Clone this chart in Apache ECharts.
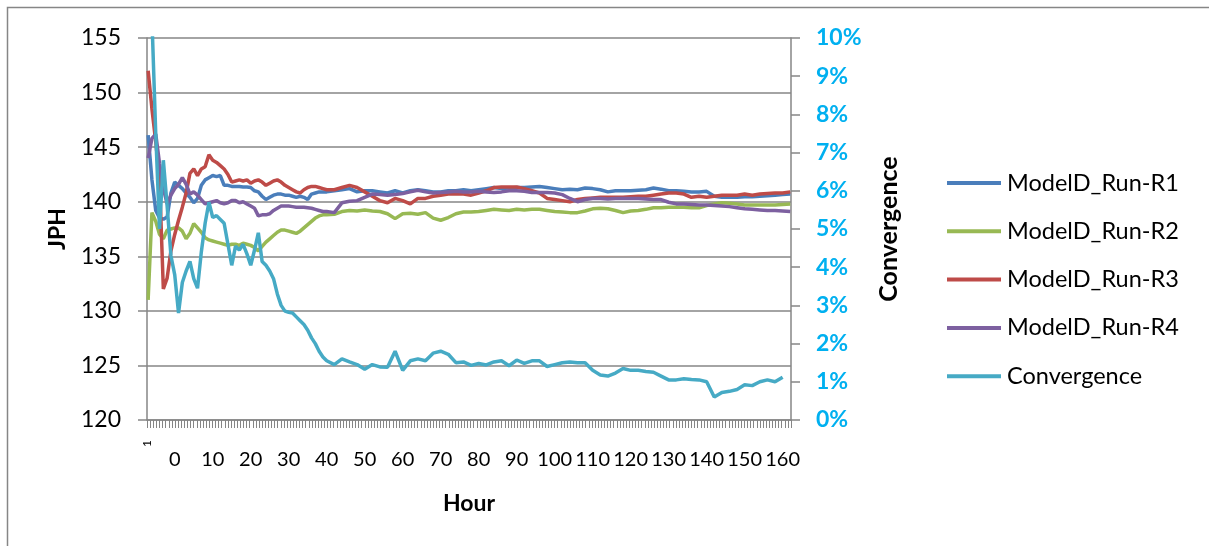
<!DOCTYPE html>
<html>
<head>
<meta charset="utf-8">
<script src="https://cdn.jsdelivr.net/npm/echarts@6/dist/echarts.min.js"></script>
<style>
  html, body { margin: 0; padding: 0; background: #fff; }
  #chart { width: 1209px; height: 546px; }
</style>
</head>
<body>
<div id="chart"></div>
<script>
// Hour of each sample (hourly through the warm-up, every two hours afterwards)
const hours = [
  -7, -6, -5, -4, -3, -2, -1,
  0, 1, 2, 3, 4, 5, 6, 7, 8, 9,
  10, 11, 12, 13, 14, 15, 16, 17, 18, 19,
  20, 21, 22, 23, 24, 25, 26, 27, 28, 29,
  30, 31, 32, 33, 34, 35, 36, 37, 38, 39, 40,
  42, 44, 46, 48, 50, 52, 54, 56, 58, 60,
  62, 64, 66, 68, 70, 72, 74, 76, 78, 80,
  82, 84, 86, 88, 90, 92, 94, 96, 98, 100,
  102, 104, 106, 108, 110, 112, 114, 116, 118, 120,
  122, 124, 126, 128, 130, 132, 134, 136, 138, 140,
  142, 144, 146, 148, 150, 152, 154, 156, 158, 160, 162
];

// Jobs per hour for each replication
const runR1 = [
  146.1, 142.0, 139.2, 138.5, 138.4, 138.6, 140.8,
  141.8, 141.5, 141.2, 140.8, 140.4, 139.9, 140.3, 141.5, 142.0, 142.2,
  142.4, 142.3, 142.4, 141.5, 141.5, 141.4, 141.4, 141.4, 141.35, 141.35,
  141.3, 141.0, 140.9, 140.5, 140.2, 140.4, 140.6, 140.7, 140.7, 140.6,
  140.6, 140.5, 140.4, 140.5, 140.4, 140.2, 140.7, 140.8, 140.9, 140.9, 140.9,
  141.0, 141.1, 141.2, 140.9, 141.0, 141.0, 140.9, 140.8, 141.0, 140.8,
  141.0, 141.1, 141.0, 140.9, 140.9, 141.0, 141.0, 141.1, 141.0, 141.1,
  141.2, 141.3, 141.2, 141.25, 141.3, 141.3, 141.35, 141.4, 141.3, 141.2,
  141.1, 141.15, 141.1, 141.25, 141.2, 141.1, 140.9, 141.0, 141.0, 141.0,
  141.05, 141.1, 141.25, 141.15, 141.0, 141.0, 140.95, 140.9, 140.9, 140.95,
  140.5, 140.4, 140.4, 140.4, 140.45, 140.45, 140.5, 140.55, 140.6, 140.65, 140.7
];

const runR2 = [
  131.0, 139.0, 138.2, 137.0, 136.6, 137.4, 137.5,
  137.6, 137.6, 137.3, 136.6, 137.1, 138.0, 137.6, 137.2, 136.7, 136.5,
  136.4, 136.3, 136.2, 136.1, 136.0, 136.1, 136.1, 136.0, 136.2, 136.1,
  136.0, 135.8, 135.5, 135.9, 136.3, 136.6, 136.9, 137.2, 137.4, 137.4,
  137.3, 137.2, 137.1, 137.3, 137.6, 137.9, 138.2, 138.5, 138.7, 138.8, 138.8,
  138.85, 139.1, 139.2, 139.15, 139.25, 139.15, 139.1, 138.9, 138.45, 138.9,
  138.95, 138.85, 139.0, 138.5, 138.3, 138.55, 138.9, 139.05, 139.05, 139.1,
  139.2, 139.3, 139.25, 139.2, 139.3, 139.25, 139.3, 139.3, 139.2, 139.1,
  139.05, 139.0, 139.0, 139.15, 139.35, 139.4, 139.35, 139.2, 139.0, 139.15,
  139.2, 139.3, 139.45, 139.45, 139.5, 139.5, 139.5, 139.45, 139.45, 139.65,
  139.8, 139.9, 139.85, 139.8, 139.7, 139.7, 139.7, 139.7, 139.7, 139.75, 139.8
];

const runR3 = [
  152.0, 148.5, 145.5, 142.0, 132.0, 133.0, 135.5,
  137.0, 138.3, 139.5, 140.8, 142.6, 143.0, 142.4, 143.0, 143.2, 144.3,
  143.8, 143.6, 143.3, 143.0, 142.5, 141.8, 141.9, 142.0, 141.9, 142.0,
  141.7, 141.9, 142.0, 141.8, 141.5, 141.7, 141.9, 142.0, 141.8, 141.5,
  141.3, 141.1, 140.9, 140.8, 141.1, 141.3, 141.4, 141.4, 141.3, 141.2, 141.1,
  141.1, 141.3, 141.5, 141.3, 140.9, 140.5, 140.1, 139.9, 140.3, 140.1,
  139.8, 140.3, 140.3, 140.5, 140.6, 140.7, 140.7, 140.7, 140.6, 140.8,
  141.0, 141.3, 141.35, 141.35, 141.35, 141.2, 141.0, 140.8, 140.3, 140.2,
  140.1, 140.0, 140.2, 140.3, 140.35, 140.4, 140.4, 140.4, 140.4, 140.45,
  140.5, 140.5, 140.6, 140.7, 140.8, 140.8, 140.7, 140.4, 140.5, 140.4,
  140.5, 140.6, 140.6, 140.6, 140.7, 140.6, 140.7, 140.75, 140.8, 140.8, 140.9
];

const runR4 = [
  144.0, 145.8, 146.2, 143.5, 141.2, 139.8, 140.6,
  141.2, 141.6, 142.2, 141.6, 140.7, 140.9, 140.6, 140.2, 139.8, 139.9,
  140.0, 140.1, 139.9, 139.8, 139.9, 140.1, 140.1, 139.9, 140.0, 139.8,
  139.6, 139.4, 138.7, 138.8, 138.8, 138.9, 139.2, 139.4, 139.6, 139.6,
  139.6, 139.55, 139.5, 139.5, 139.5, 139.45, 139.4, 139.3, 139.2, 139.1, 139.1,
  139.0, 139.9, 140.05, 140.1, 140.4, 140.7, 140.65, 140.6, 140.65, 140.75,
  140.9, 141.05, 140.9, 140.8, 140.85, 140.9, 140.95, 140.9, 140.9, 140.95,
  140.9, 140.85, 140.9, 141.0, 141.0, 140.95, 140.85, 140.85, 140.85, 140.8,
  140.65, 140.3, 140.0, 140.2, 140.3, 140.3, 140.25, 140.3, 140.3, 140.3,
  140.3, 140.25, 140.2, 140.2, 139.95, 139.8, 139.8, 139.75, 139.7, 139.7,
  139.65, 139.6, 139.55, 139.45, 139.35, 139.3, 139.25, 139.2, 139.2, 139.15, 139.1
];

// Convergence of the running mean, in percent
const convergence = [
  12.0, 10.5, 7.5, 5.0, 6.8, 5.6, 4.3,
  3.8, 2.8, 3.6, 3.9, 4.15, 3.7, 3.45, 4.4, 5.15, 5.7,
  5.3, 5.35, 5.25, 5.15, 4.6, 4.05, 4.55, 4.45, 4.6, 4.35,
  4.05, 4.45, 4.9, 4.15, 4.05, 3.9, 3.7, 3.3, 3.0, 2.85,
  2.82, 2.8, 2.7, 2.6, 2.5, 2.35, 2.15, 2.0, 1.8, 1.65, 1.55,
  1.45, 1.6, 1.52, 1.45, 1.33, 1.45, 1.39, 1.38, 1.8, 1.3,
  1.55, 1.6, 1.55, 1.75, 1.8, 1.72, 1.5, 1.52, 1.43, 1.48,
  1.44, 1.52, 1.55, 1.42, 1.57, 1.48, 1.55, 1.55, 1.4, 1.45,
  1.5, 1.52, 1.5, 1.5, 1.3, 1.18, 1.15, 1.23, 1.35, 1.3,
  1.3, 1.27, 1.25, 1.15, 1.05, 1.05, 1.08, 1.06, 1.05, 1.0,
  0.6, 0.72, 0.75, 0.8, 0.92, 0.9, 1.0, 1.05, 1.0, 1.12, null
];

const seriesNames = ['ModelD_Run-R1', 'ModelD_Run-R2', 'ModelD_Run-R3', 'ModelD_Run-R4', 'Convergence'];
const hourTickLabels = [0, 10, 20, 30, 40, 50, 60, 70, 80, 90, 100, 110, 120, 130, 140, 150, 160];
const firstCategoryLabel = '1';

const FONT = 'Lato, "Open Sans", sans-serif';
const AXIS_GRAY = '#868686';
const X_MIN = -7.3, X_MAX = 162.2;
const TICK_COUNT = 207;
const minorTicks = Array.from({ length: TICK_COUNT + 1 }, (_, i) => X_MIN + i * (X_MAX - X_MIN) / TICK_COUNT);

const pair = vals => hours.map((h, i) => [h, vals[i]]);
const colors = ['#4A7EBB', '#98B954', '#BE4B48', '#7D60A0', '#46AAC5'];

const chart = echarts.init(document.getElementById('chart'), null, { renderer: 'canvas' });

chart.setOption({
  animation: false,
  backgroundColor: '#fff',
  textStyle: { fontFamily: FONT },
  graphic: [{
    type: 'rect', silent: true, z: -10,
    shape: { x: 7.5, y: 7.5, width: 1400, height: 800 },
    style: { fill: 'transparent', stroke: AXIS_GRAY, lineWidth: 1.5 }
  }],
  grid: { left: 147, top: 38, width: 644, height: 382, containLabel: false },
  legend: {
    orient: 'vertical', left: 947, top: 169, padding: 0,
    icon: 'rect', itemWidth: 54, itemHeight: 4, itemGap: 20.3,
    textStyle: { fontFamily: FONT, fontSize: 23.5, color: '#000', lineHeight: 28, padding: [0, 0, 0, 1] },
    data: seriesNames
  },
  xAxis: [{
    type: 'value', min: X_MIN, max: X_MAX, position: 'bottom',
    axisLine: { show: true, onZero: false, lineStyle: { color: AXIS_GRAY, width: 1.5 } },
    axisTick: { show: true, inside: false, length: 8, customValues: minorTicks, lineStyle: { color: AXIS_GRAY, width: 1 } },
    axisLabel: {
      customValues: hourTickLabels, showMaxLabel: true, showMinLabel: true, hideOverlap: false,
      fontFamily: FONT, fontSize: 20, color: '#000', margin: 30
    },
    splitLine: { show: false },
    name: 'Hour', nameLocation: 'middle', nameGap: 72,
    nameTextStyle: { fontFamily: FONT, fontSize: 23, fontWeight: 'bold', color: '#000' }
  }, {
    type: 'value', min: X_MIN, max: X_MAX, position: 'bottom',
    axisLine: { show: false, onZero: false }, axisTick: { show: false }, splitLine: { show: false },
    axisLabel: {
      customValues: [X_MIN], formatter: () => firstCategoryLabel,
      rotate: 90, fontFamily: FONT, fontSize: 12, color: '#000', margin: 20
    }
  }],
  yAxis: [{
    type: 'value', min: 120, max: 155, interval: 5, position: 'left',
    axisLine: { show: true, onZero: false, lineStyle: { color: AXIS_GRAY, width: 1.5 } },
    axisTick: { show: true, inside: false, length: 9, lineStyle: { color: AXIS_GRAY, width: 1.5 } },
    axisLabel: { fontFamily: FONT, fontSize: 23, color: '#000', margin: 26 },
    splitLine: { show: true, lineStyle: { color: AXIS_GRAY, width: 1.5 } },
    name: 'JPH', nameLocation: 'middle', nameGap: 78,
    nameTextStyle: { fontFamily: FONT, fontSize: 23, fontWeight: 'bold', color: '#000' }
  }, {
    type: 'value', min: 0, max: 10, interval: 1, position: 'right',
    axisLine: { show: true, onZero: false, lineStyle: { color: AXIS_GRAY, width: 1.5 } },
    axisTick: { show: true, inside: false, length: 9, lineStyle: { color: AXIS_GRAY, width: 1.5 } },
    axisLabel: { formatter: '{value}%', fontFamily: FONT, fontSize: 23, fontWeight: 'bold', color: '#00B0F0', margin: 25 },
    splitLine: { show: false },
    name: 'Convergence', nameLocation: 'middle', nameGap: 85, nameRotate: 90,
    nameTextStyle: { fontFamily: FONT, fontSize: 25, fontWeight: 'bold', color: '#000' }
  }],
  series: [runR1, runR2, runR3, runR4, convergence].map((vals, i) => ({
    name: seriesNames[i],
    type: 'line',
    xAxisIndex: 0,
    yAxisIndex: i === 4 ? 1 : 0,
    data: pair(vals),
    showSymbol: false,
    symbol: 'none',
    clip: true,
    color: colors[i],
    lineStyle: { width: 3.5, color: colors[i] },
    itemStyle: { color: colors[i] }
  }))
});
</script>
</body>
</html>
